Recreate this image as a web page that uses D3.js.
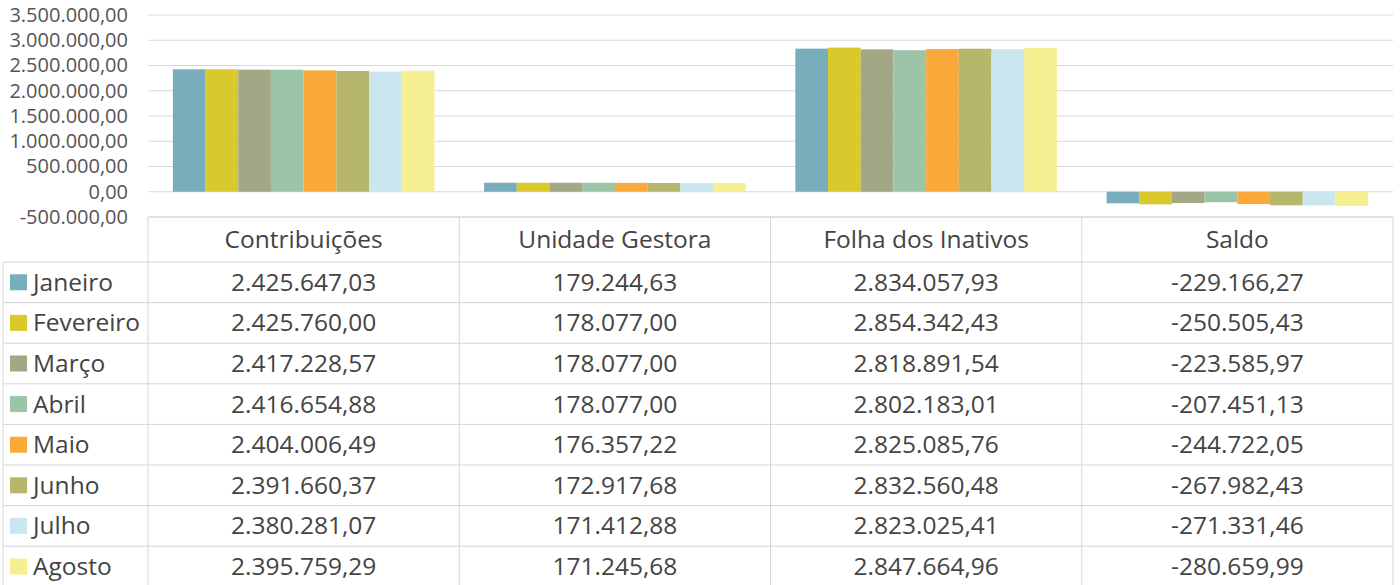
<!DOCTYPE html>
<html>
<head>
<meta charset="utf-8">
<script src="https://cdn.jsdelivr.net/npm/d3@7"></script>
<style>
  body { margin: 0; background: #fff; }
  svg { display: block; font-family: "Open Sans", sans-serif; }
</style>
</head>
<body>
<div id="chart"></div>
<script>
// data
let categories = ["Contribuições", "Unidade Gestora", "Folha dos Inativos", "Saldo"];
let months = ["Janeiro", "Fevereiro", "Março", "Abril", "Maio", "Junho", "Julho", "Agosto"];
let contribuicoes = [2425647.03, 2425760.00, 2417228.57, 2416654.88, 2404006.49, 2391660.37, 2380281.07, 2395759.29];
let unidadeGestora = [179244.63, 178077.00, 178077.00, 178077.00, 176357.22, 172917.68, 171412.88, 171245.68];
let folhaInativos = [2834057.93, 2854342.43, 2818891.54, 2802183.01, 2825085.76, 2832560.48, 2823025.41, 2847664.96];
let saldo = [-229166.27, -250505.43, -223585.97, -207451.13, -244722.05, -267982.43, -271331.46, -280659.99];
let yTicks = [-500000, 0, 500000, 1000000, 1500000, 2000000, 2500000, 3000000, 3500000];
let monthColors = ["#78aebb", "#d9c92c", "#a3a786", "#9cc4a9", "#f9a93a", "#b7b66d", "#cce6ef", "#f5ef92"];

let seriesByCategory = [contribuicoes, unidadeGestora, folhaInativos, saldo];

let width = 1400, height = 585;
let plotLeft = 148, plotRight = 1393, plotTop = 15, plotBottom = 217;
let tableLeft = 3, headerBottom = 262, rowH = 40.6;
let tableFont = "24.5px";

let br = d3.formatLocale({decimal: ",", thousands: ".", grouping: [3], currency: ["R$", ""], minus: "-"});
let fmt = br.format(",.2f");

let svg = d3.select("#chart").append("svg")
    .attr("width", width)
    .attr("height", height);

// scales
let x0 = d3.scaleBand()
    .domain(categories)
    .range([plotLeft, plotRight])
    .padding(0);

let x1 = d3.scaleBand()
    .domain(months)
    .range([0, x0.bandwidth()])
    .paddingInner(0)
    .paddingOuter(0.76);

let y = d3.scaleLinear()
    .domain([-500000, 3500000])
    .range([plotBottom, plotTop]);

let color = d3.scaleOrdinal()
    .domain(months)
    .range(monthColors);

let rowY = d3.scaleBand()
    .domain(months)
    .range([headerBottom, headerBottom + rowH * months.length]);

// gridlines
svg.append("g")
    .selectAll("line")
    .data(yTicks)
  .enter().append("line")
    .attr("x1", plotLeft)
    .attr("x2", plotRight)
    .attr("y1", d => y(d))
    .attr("y2", d => y(d))
    .attr("stroke", "#d9d9d9")
    .attr("stroke-width", 1);

// y axis
let yAxis = svg.append("g")
    .attr("transform", "translate(" + plotLeft + ",0)")
    .call(d3.axisLeft(y).tickValues(yTicks).tickFormat(fmt).tickSize(0).tickPadding(20));
yAxis.select(".domain").remove();
yAxis.selectAll("text")
    .attr("fill", "#555")
    .style("font-family", "'Open Sans', sans-serif")
    .style("font-size", "20px");

// bars
let groups = svg.append("g")
    .selectAll("g")
    .data(categories)
  .enter().append("g")
    .attr("transform", d => "translate(" + x0(d) + ",0)");

groups.selectAll("rect")
    .data((c, i) => seriesByCategory[i].map((v, j) => ({month: months[j], value: v})))
  .enter().append("rect")
    .attr("x", d => x1(d.month))
    .attr("width", x1.bandwidth())
    .attr("y", d => y(Math.max(0, d.value)))
    .attr("height", d => Math.abs(y(d.value) - y(0)))
    .attr("fill", d => color(d.month));

// data table
let grid = svg.append("g")
    .attr("stroke", "#d6d6d6")
    .attr("stroke-width", 1);

let tableBottom = headerBottom + rowH * months.length;

// horizontal lines
grid.append("line")
    .attr("x1", plotLeft).attr("x2", plotRight)
    .attr("y1", plotBottom).attr("y2", plotBottom);
grid.selectAll(".hrow")
    .data(months)
  .enter().append("line")
    .attr("class", "hrow")
    .attr("x1", tableLeft).attr("x2", plotRight)
    .attr("y1", d => rowY(d)).attr("y2", d => rowY(d));

// vertical lines
grid.selectAll(".vcol")
    .data(categories)
  .enter().append("line")
    .attr("class", "vcol")
    .attr("x1", d => x0(d)).attr("x2", d => x0(d))
    .attr("y1", plotBottom).attr("y2", tableBottom);
grid.append("line")
    .attr("x1", plotRight).attr("x2", plotRight)
    .attr("y1", plotBottom).attr("y2", tableBottom);
grid.append("line")
    .attr("x1", tableLeft).attr("x2", tableLeft)
    .attr("y1", headerBottom).attr("y2", tableBottom);

// header labels
svg.append("g")
    .selectAll("text")
    .data(categories)
  .enter().append("text")
    .attr("x", d => x0(d) + x0.bandwidth() / 2)
    .attr("y", (plotBottom + headerBottom) / 2 + 8)
    .attr("text-anchor", "middle")
    .attr("fill", "#444")
    .style("font-size", tableFont)
    .text(d => d);

// legend column
let legend = svg.append("g")
    .selectAll("g")
    .data(months)
  .enter().append("g")
    .attr("transform", d => "translate(0," + (rowY(d) + rowY.bandwidth() / 2) + ")");

legend.append("rect")
    .attr("x", 10)
    .attr("y", -8)
    .attr("width", 17)
    .attr("height", 16)
    .attr("fill", d => color(d));

legend.append("text")
    .attr("x", 33)
    .attr("y", 8.5)
    .attr("fill", "#444")
    .style("font-size", tableFont)
    .text(d => d);

// values
categories.forEach(function(c, i) {
  svg.append("g")
      .selectAll("text")
      .data(seriesByCategory[i])
    .enter().append("text")
      .attr("x", x0(c) + x0.bandwidth() / 2)
      .attr("y", (d, j) => rowY(months[j]) + rowY.bandwidth() / 2 + 8.5)
      .attr("text-anchor", "middle")
      .attr("fill", "#444")
      .style("font-size", tableFont)
      .text(d => fmt(d));
});
</script>
</body>
</html>
